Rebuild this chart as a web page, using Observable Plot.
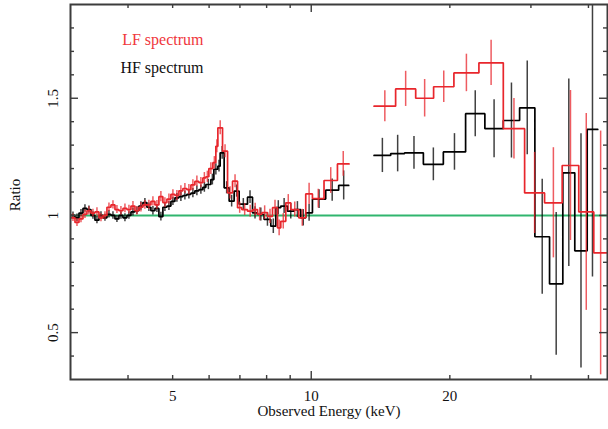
<!DOCTYPE html>
<html><head><meta charset="utf-8">
<script src="https://cdn.jsdelivr.net/npm/d3@7"></script>
<script src="https://cdn.jsdelivr.net/npm/@observablehq/plot@0.6"></script>
<style>
html,body{margin:0;padding:0;background:#fff;}
#chart{width:608px;height:429px;overflow:hidden;}
</style></head><body><div id="chart"></div>
<script>
// ---- Data (energies in keV, ratio values, 1-sigma errors) ----
const lfEdgesLow = [3.007,3.068,3.130,3.193,3.257,3.323,3.390,3.459,3.529,3.600,
 3.673,3.747,3.822,3.900,3.978,4.059,4.141,4.224,4.309,4.396,
 4.485,4.576,4.668,4.762,4.859,4.957,5.057,5.159,5.263,5.369,
 5.478,5.588,5.701,5.816,5.904,5.993,6.114,6.206,6.269,6.417,
 6.580,6.746,6.917,7.067,7.271,7.466,7.644,7.810,8.035,8.239,
 8.447,8.587,8.804,9.027,9.395,9.729,10.06,10.66,11.40,12.08];
const lfValuesLow = [0.99,0.97,0.985,1.005,1.02,1.01,1.015,0.99,1.0,1.035,
 1.045,1.025,1.02,1.03,1.025,1.04,1.02,1.035,1.045,1.045,
 1.06,1.045,1.08,1.055,1.07,1.09,1.085,1.105,1.115,1.11,
 1.13,1.145,1.14,1.16,1.165,1.2,1.225,1.295,1.374,1.274,
 1.096,1.146,1.033,1.025,1.018,1.025,1.005,1.012,0.996,1.033,
 0.947,0.975,1.054,1.025,0.99,1.092,1.072,1.149,1.22];
const lfErrorsLow = [0.016,0.017,0.016,0.018,0.017,0.016,0.018,0.017,0.016,0.018,
 0.018,0.017,0.018,0.019,0.018,0.019,0.018,0.02,0.019,0.02,
 0.02,0.019,0.022,0.02,0.021,0.02,0.021,0.022,0.021,0.022,
 0.022,0.023,0.022,0.023,0.024,0.025,0.026,0.028,0.03,0.028,
 0.026,0.028,0.024,0.025,0.026,0.027,0.028,0.029,0.03,0.032,
 0.034,0.033,0.035,0.032,0.036,0.045,0.04,0.055,0.053];
const lfEdgesHigh = [13.69,15.25,16.86,18.44,20.41,23.13,26.13,29.07,32.12,35.08,38.11,41.08,44.0];
const lfValuesHigh = [1.466,1.54,1.50,1.549,1.608,1.651,1.370,1.096,1.054,1.213,1.015,0.840];
const lfErrorsHigh = [0.066,0.075,0.08,0.067,0.08,0.097,0.129,0.173,0.235,0.32,0.42,0.52];

const hfEdgesLow = [3.007,3.068,3.130,3.193,3.257,3.323,3.390,3.459,3.529,3.600,
 3.673,3.747,3.822,3.900,3.978,4.059,4.141,4.224,4.309,4.396,
 4.485,4.576,4.668,4.762,4.859,4.957,5.057,5.159,5.263,5.369,
 5.478,5.588,5.701,5.816,5.904,6.053,6.145,6.269,6.341,6.469,
 6.633,6.800,6.972,7.271,7.455,7.644,7.900,8.169,8.376,8.587,
 8.879,9.177,9.489,9.729,10.06,10.75,11.47,12.06];
const hfValuesLow = [1.0,0.99,1.01,1.03,1.025,1.0,0.98,1.0,0.99,1.005,
 1.0,0.985,1.0,0.99,1.0,1.015,1.02,1.04,1.055,1.035,
 1.02,1.03,0.995,1.035,1.04,1.06,1.075,1.08,1.085,1.09,
 1.095,1.105,1.11,1.12,1.132,1.153,1.197,1.21,1.267,1.118,
 1.061,1.104,1.048,1.078,1.011,1.004,0.983,0.954,1.033,1.04,
 1.018,1.025,0.99,1.011,1.07,1.108,1.128];
const hfErrorsLow = [0.015,0.016,0.015,0.016,0.015,0.016,0.015,0.016,0.015,0.016,
 0.016,0.015,0.016,0.017,0.016,0.017,0.016,0.018,0.017,0.018,
 0.018,0.017,0.019,0.018,0.019,0.018,0.019,0.02,0.019,0.02,
 0.02,0.021,0.02,0.021,0.022,0.023,0.024,0.025,0.027,0.026,
 0.025,0.026,0.024,0.027,0.026,0.028,0.029,0.031,0.03,0.032,
 0.033,0.034,0.035,0.036,0.04,0.047,0.062];
const hfEdgesHigh = [13.69,14.88,15.95,17.52,19.36,21.64,23.83,26.13,28.35,30.60,32.93,35.19,37.36,39.75,41.91];
const hfValuesHigh = [1.256,1.264,1.267,1.218,1.271,1.434,1.370,1.405,1.459,0.909,0.708,1.182,0.849,1.367];
const hfErrorsHigh = [0.073,0.078,0.07,0.07,0.078,0.098,0.124,0.16,0.2,0.245,0.305,0.40,0.50,0.63];

const xDomain = [3, 44];
const yDomain = [0.3, 1.9];
const xMajorTicks = [10];
const xMinorTicks = [4,5,6,7,8,9,20,30,40];
const xTickLabels = [5, 10, 20];
const yMajorTicks = [0.5, 1, 1.5];
const yMinorTicks = [0.4,0.6,0.7,0.8,0.9,1.1,1.2,1.3,1.4,1.6,1.7,1.8];
const yTickLabels = ["0.5", "1", "1.5"];
const legendLabels = ["LF spectrum", "HF spectrum"];

// ---- Build tables ----
function bins(edges, values, errors, seg) {
  return values.map((v, i) => ({lo: edges[i], hi: edges[i+1], v, e: errors[i], seg}));
}
const lfBins = [...bins(lfEdgesLow, lfValuesLow, lfErrorsLow, "a"), ...bins(lfEdgesHigh, lfValuesHigh, lfErrorsHigh, "b")];
const hfBins = [...bins(hfEdgesLow, hfValuesLow, hfErrorsLow, "a"), ...bins(hfEdgesHigh, hfValuesHigh, hfErrorsHigh, "b")];
const steps = b => b.flatMap(d => [{x: d.lo, y: d.v, seg: d.seg}, {x: d.hi, y: d.v, seg: d.seg}]);

const width = 608, height = 429, ml = 70, mr = 1, mt = 4, mb = 50;
const innerW = width - ml - mr, innerH = height - mt - mb;
const red = "#e8262c", black = "#000000", green = "#30b56e", axisColor = "#3c3c3c";
const font = "'Liberation Serif', 'Times New Roman', serif";

const errMark = (b, color, op) => Plot.ruleX(b, {
  x: d => Math.sqrt(d.lo * d.hi), y1: d => d.v - d.e, y2: d => d.v + d.e,
  stroke: color, strokeWidth: 1.5, strokeOpacity: op, clip: true
});
const stepMark = (b, color) => Plot.line(steps(b), {
  x: "x", y: "y", z: "seg", stroke: color, strokeWidth: 1.7, strokeLinejoin: "miter", clip: true
});

const plot = Plot.plot({
  width, height, marginLeft: ml, marginRight: mr, marginTop: mt, marginBottom: mb,
  style: {fontFamily: font, background: "#fff", color: "#000"},
  x: {type: "log", domain: xDomain, axis: null},
  y: {domain: yDomain, axis: null},
  marks: [
    Plot.ruleY([1], {stroke: green, strokeWidth: 2}),
    errMark(hfBins, black, 0.75),
    stepMark(hfBins, black),
    errMark(lfBins, red, 0.75),
    stepMark(lfBins, red),
    // ticks (inward, all four sides)
    Plot.tickX(xMinorTicks, {x: d => d, insetTop: innerH - 4, stroke: axisColor, strokeWidth: 1.4}),
    Plot.tickX(xMajorTicks, {x: d => d, insetTop: innerH - 8, stroke: axisColor, strokeWidth: 1.4}),
    Plot.tickX(xMinorTicks, {x: d => d, insetBottom: innerH - 4, stroke: axisColor, strokeWidth: 1.4}),
    Plot.tickX(xMajorTicks, {x: d => d, insetBottom: innerH - 8, stroke: axisColor, strokeWidth: 1.4}),
    Plot.tickY(yMinorTicks, {y: d => d, insetRight: innerW - 4, stroke: axisColor, strokeWidth: 1.4}),
    Plot.tickY(yMajorTicks, {y: d => d, insetRight: innerW - 8, stroke: axisColor, strokeWidth: 1.4}),
    Plot.tickY(yMinorTicks, {y: d => d, insetLeft: innerW - 4, stroke: axisColor, strokeWidth: 1.4}),
    Plot.tickY(yMajorTicks, {y: d => d, insetLeft: innerW - 8, stroke: axisColor, strokeWidth: 1.4}),
    Plot.frame({stroke: axisColor, strokeWidth: 2}),
    // tick labels
    Plot.text(xTickLabels, {x: d => d, text: d => String(d), frameAnchor: "bottom", dy: 21, lineAnchor: "bottom", fontSize: 15, fill: "#111"}),
    Plot.text(yMajorTicks, {y: d => d, text: (d, i) => yTickLabels[i], frameAnchor: "left", dx: -17, rotate: -90, textAnchor: "middle", lineAnchor: "middle", fontSize: 15, fill: "#111"}),
    // axis titles
    Plot.text(["Observed Energy (keV)"], {text: d => d, frameAnchor: "bottom", dx: -10, dy: 36, lineAnchor: "bottom", fontSize: 15, fill: "#111"}),
    Plot.text(["Ratio"], {text: d => d, frameAnchor: "left", dx: -55, dy: 3, rotate: -90, textAnchor: "middle", lineAnchor: "middle", fontSize: 15, fill: "#111"}),
    // legend
    Plot.text([legendLabels[0]], {text: d => d, frameAnchor: "top-left", dx: 133, dy: 40, textAnchor: "end", lineAnchor: "bottom", fontSize: 16, fill: "#f0373c"}),
    Plot.text([legendLabels[1]], {text: d => d, frameAnchor: "top-left", dx: 133, dy: 68, textAnchor: "end", lineAnchor: "bottom", fontSize: 16, fill: "#111"})
  ]
});
document.getElementById("chart").append(plot);
</script>
</body></html>
